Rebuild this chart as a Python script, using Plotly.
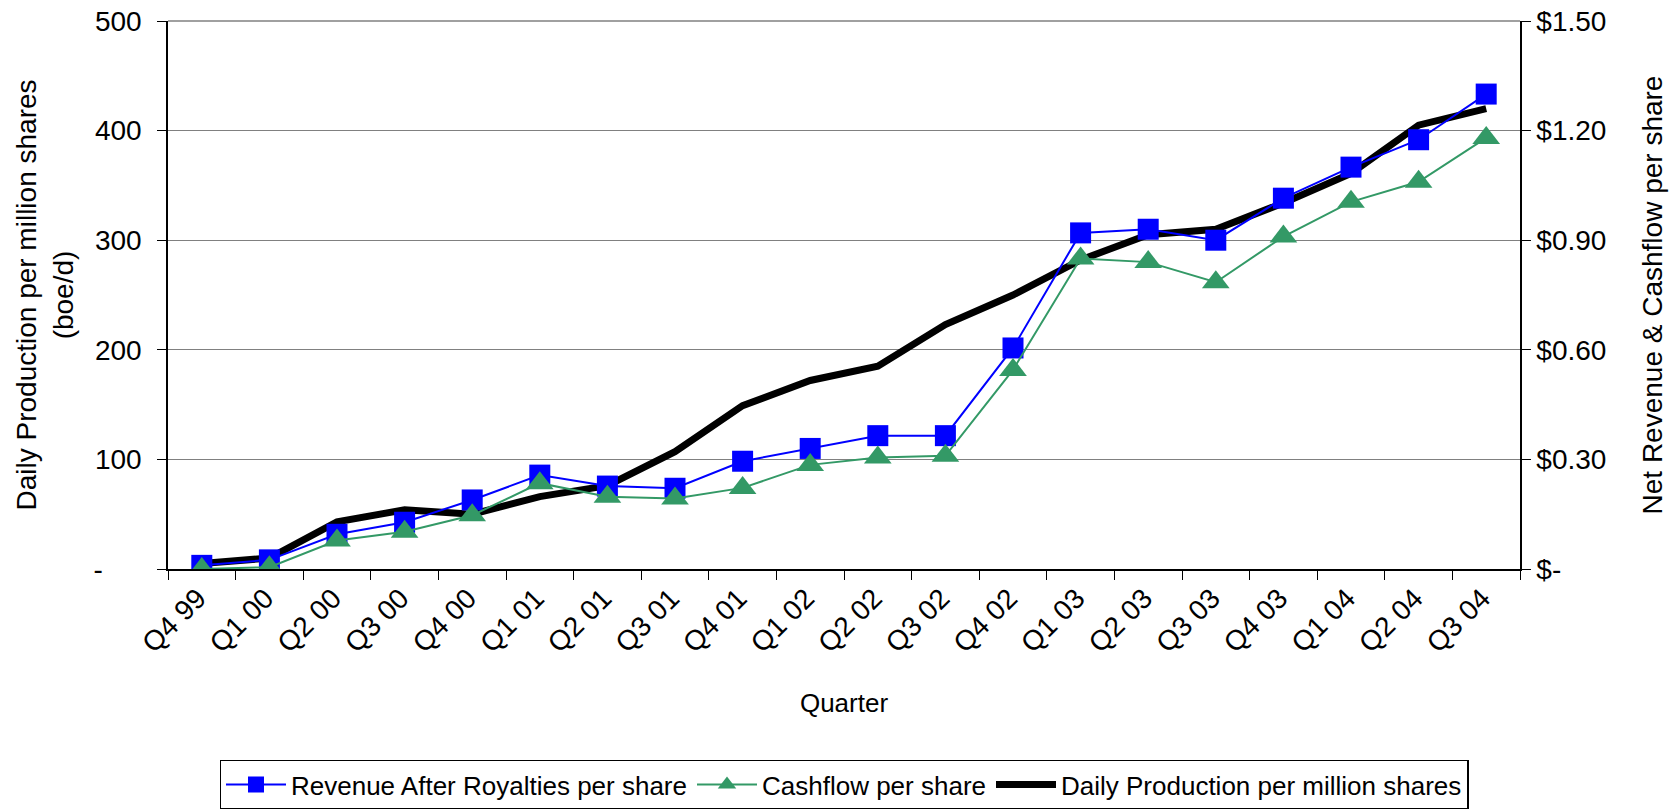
import plotly.graph_objects as go

quarters = ["Q4 99", "Q1 00", "Q2 00", "Q3 00", "Q4 00", "Q1 01", "Q2 01", "Q3 01",
            "Q4 01", "Q1 02", "Q2 02", "Q3 02", "Q4 02", "Q1 03", "Q2 03", "Q3 03",
            "Q4 03", "Q1 04", "Q2 04", "Q3 04"]

revenue = [0.01, 0.025, 0.095, 0.128, 0.189, 0.257, 0.227, 0.221, 0.295, 0.33,
           0.365, 0.365, 0.605, 0.92, 0.93, 0.90, 1.015, 1.10, 1.175, 1.30]
cashflow = [0.0, 0.005, 0.078, 0.102, 0.147, 0.235, 0.198, 0.193, 0.222, 0.285,
            0.305, 0.31, 0.545, 0.85, 0.84, 0.785, 0.91, 1.005, 1.06, 1.18]
production = [5, 10, 43, 54, 50, 66, 76, 107, 149, 172,
              185, 223, 250, 282, 305, 310, 334, 361, 405, 420]

SPACER = "<span style='color:white'>00.</span>"
left_ticks = [0, 100, 200, 300, 400, 500]
left_labels = ["-" + SPACER, "100", "200", "300", "400", "500"]
right_ticks = [0, 0.3, 0.6, 0.9, 1.2, 1.5]
right_labels = ["$-", "$0.30", "$0.60", "$0.90", "$1.20", "$1.50"]

FONT = "Liberation Sans, Arial, sans-serif"

fig = go.Figure()
fig.add_trace(go.Scatter(
    x=quarters, y=revenue, name="Revenue After Royalties per share", yaxis="y2",
    mode="lines+markers", line=dict(color="#0000FF", width=2),
    marker=dict(symbol="square", size=21, color="#0000FF")))
fig.add_trace(go.Scatter(
    x=quarters, y=cashflow, name="Cashflow per share", yaxis="y2",
    mode="lines+markers", line=dict(color="#339966", width=2),
    marker=dict(symbol="triangle-up", size=24, color="#339966")))
fig.add_trace(go.Scatter(
    x=quarters, y=production, name="Daily Production per million shares", yaxis="y",
    mode="lines", line=dict(color="#000000", width=7)))

# top border line of plot area (gridline at 500)
fig.add_shape(type="line", xref="x domain", yref="y domain", x0=0, x1=1, y0=1, y1=1,
              line=dict(color="#808080", width=1.5))

fig.update_layout(
    width=1673, height=809,
    margin=dict(l=168, r=153, t=21, b=240),
    paper_bgcolor="white", plot_bgcolor="white",
    font=dict(family=FONT, size=28, color="black"),
    showlegend=True,
    legend=dict(orientation="h", x=0.5, xanchor="center",
                yref="container", y=0.061, yanchor="top",
                bordercolor="black", borderwidth=1.5, font=dict(size=26),
                itemwidth=60, traceorder="normal"),
    xaxis=dict(
        type="category", tickangle=-45, tickson="boundaries", ticks="outside",
        ticklen=9, tickcolor="black", showline=True, linecolor="black", linewidth=1.5,
        showgrid=False, range=[-0.5, 19.5], automargin=False,
        tickfont=dict(size=28), ticklabelshift=-4,
        title=dict(text="Quarter", standoff=36, font=dict(size=26))),
    yaxis=dict(
        range=[0, 500], tickvals=left_ticks, ticktext=left_labels, automargin=False,
        ticks="outside", ticklen=9, tickcolor="black", ticklabelstandoff=10,
        tickfont=dict(size=28),
        showline=True, linecolor="black", linewidth=1.5,
        showgrid=True, gridcolor="#808080", gridwidth=1, zeroline=False,
        title=dict(text="Daily Production per million shares<br>(boe/d)", standoff=12,
                   font=dict(size=28))),
    yaxis2=dict(
        range=[0, 1.5], tickvals=right_ticks, ticktext=right_labels, automargin=False,
        overlaying="y", side="right",
        ticks="outside", ticklen=9, tickcolor="black", ticklabelstandoff=0,
        tickfont=dict(size=28),
        showline=True, linecolor="black", linewidth=1.5,
        showgrid=False, zeroline=False,
        title=dict(text="Net Revenue & Cashflow per share", standoff=37,
                   font=dict(size=28))),
)

fig.write_html("out.html", config={"displayModeBar": False},
               post_script="document.body.style.margin='0';document.body.style.overflow='hidden';")
